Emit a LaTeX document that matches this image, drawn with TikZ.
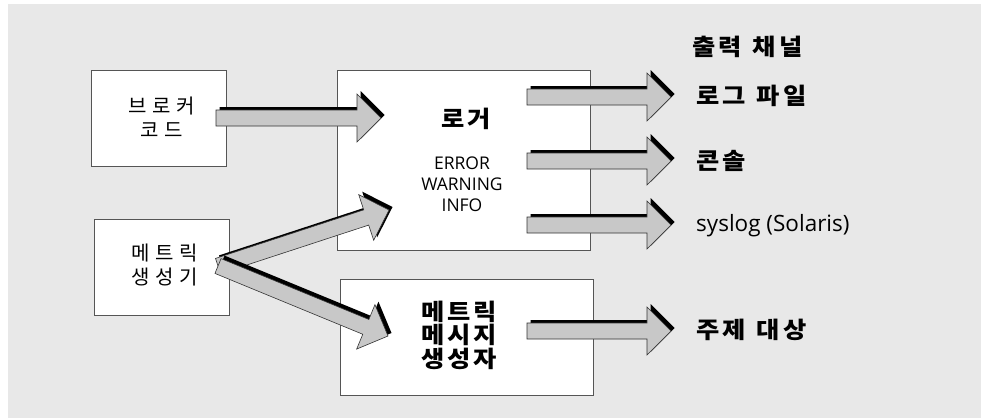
\documentclass[tikz,border=0pt]{standalone}
\usepackage{fontspec}
\setmainfont{Open Sans}
\newfontfamily\kr[LetterSpace=28]{Noto Sans CJK KR}
\newfontfamily\krB[LetterSpace=13,FakeStretch=1.1]{Noto Sans CJK KR}
\usetikzlibrary{calc}
\definecolor{bggray}{HTML}{E8E8E8}
\definecolor{boxline}{HTML}{555555}
\definecolor{arrgray}{HTML}{C8C8C8}
\definecolor{arrline}{HTML}{333333}
\newcommand\wsp{\hspace{11pt}}
\newcommand\blockarr[2]{%
  \coordinate (#1h) at ($(#2)!24pt!(#1)$);
  \path[fill=black, transform canvas={shift={(3.5pt,3pt)}}]
    ($(#1)!8pt!90:(#2)$) -- ($(#1h)!8pt!90:(#2)$) -- ($(#1h)!24pt!90:(#2)$) -- (#2)
    -- ($(#1h)!24pt!-90:(#2)$) -- ($(#1h)!8pt!-90:(#2)$) -- ($(#1)!8pt!-90:(#2)$) -- cycle;
  \path[fill=arrgray, draw=arrline, line width=0.6pt, line join=miter]
    ($(#1)!8pt!90:(#2)$) -- ($(#1h)!8pt!90:(#2)$) -- ($(#1h)!24pt!90:(#2)$) -- (#2)
    -- ($(#1h)!24pt!-90:(#2)$) -- ($(#1h)!8pt!-90:(#2)$) -- ($(#1)!8pt!-90:(#2)$) -- cycle;
}
\begin{document}
\begin{tikzpicture}[x=1pt,y=-1pt,
  box/.style={draw=boxline, fill=white, line width=0.8pt, inner sep=0pt, anchor=north west},
  krreg/.style={font=\kr\fontsize{20}{24}\selectfont, inner sep=0pt, align=center},
  krbold/.style={font=\krB\bfseries\fontsize{23}{23.5}\selectfont, inner sep=0pt},
  latin/.style={inner sep=0pt}]
\useasboundingbox (0,0) rectangle (981,418);
\fill[white] (0,0) rectangle (981,418);
\fill[bggray] (8,4) rectangle (981,418);

% boxes
\node[box, minimum width=135pt, minimum height=96pt] (broker) at (91,70) {};
\node[box, minimum width=253pt, minimum height=180pt] (logger) at (337,70) {};
\node[box, minimum width=135pt, minimum height=96pt] (metgen) at (94,219) {};
\node[box, minimum width=253pt, minimum height=116pt] (msggen) at (340,279) {};

% box texts
\node[krreg] (brokertxt) at (162,117) {브로커\\코드};
\node[krreg] (metgentxt) at (165,265) {메트릭\\생성기};
\node[krbold, anchor=center] (loggertxt) at (466,119) {로거};
\node[latin, font=\fontsize{17.5}{21}\selectfont, align=center] (levels) at (462,184) {ERROR\\WARNING\\INFO};
\node[krbold, align=center] (msgtxt) at (459,335) {메트릭\\메시지\\생성자};

% arrow end points
\coordinate (a1s) at (216,118);  \coordinate (a1e) at (381,118);
\coordinate (a2s) at (218,266);  \coordinate (a2e) at (389,210);
\coordinate (a3s) at (218,266);  \coordinate (a3e) at (388,336);
\coordinate (o1s) at (527,97);   \coordinate (o1e) at (671,97);
\coordinate (o2s) at (527,161);  \coordinate (o2e) at (671,161);
\coordinate (o3s) at (527,225);  \coordinate (o3e) at (671,225);
\coordinate (o4s) at (527,331);  \coordinate (o4e) at (671,331);

\blockarr{a1s}{a1e}
\blockarr{a2s}{a2e}
\blockarr{a3s}{a3e}
\blockarr{o1s}{o1e}
\blockarr{o2s}{o2e}
\blockarr{o3s}{o3e}
\blockarr{o4s}{o4e}

% output labels
\node[krbold, anchor=west] (chan) at (692,47) {출력\wsp 채널};
\node[krbold, anchor=west] (logfile) at (696,96) {로그\wsp 파일};
\node[krbold, anchor=west] (console) at (696,161) {콘솔};
\node[latin, anchor=base west, font=\fontsize{22.5}{26}\selectfont] (syslog) at (696,231) {syslog (Solaris)};
\node[krbold, anchor=west] (topic) at (696,330) {주제\wsp 대상};
\end{tikzpicture}
\end{document}
